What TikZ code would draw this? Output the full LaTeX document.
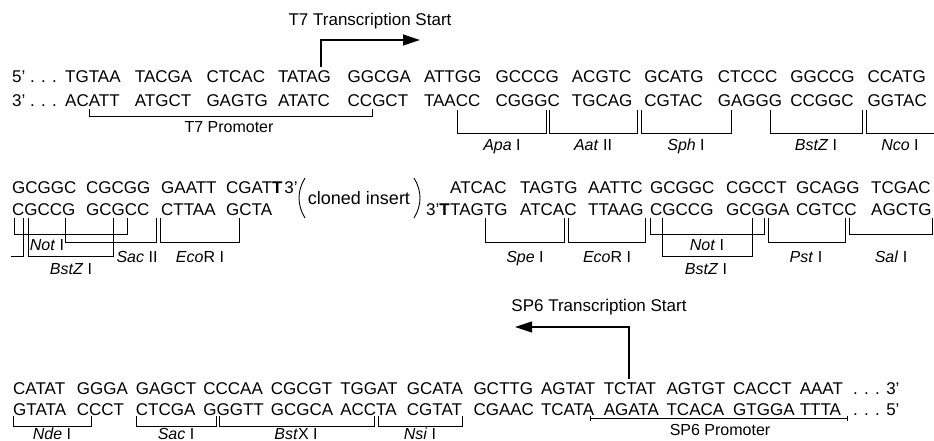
\documentclass[tikz,border=0pt]{standalone}
\usepackage{fontspec}
\setmainfont{Liberation Sans}
\usetikzlibrary{arrows.meta,positioning}

% text rows (y runs downward)
\newcommand*{\topA}{76.5}
\newcommand*{\botA}{100.5}
\newcommand*{\topB}{187.5}
\newcommand*{\botB}{209}
\newcommand*{\topC}{388}
\newcommand*{\botC}{409}

\begin{document}
\begin{tikzpicture}
[
	x=1pt, y=-1pt,
	seq/.style={anchor=west,inner sep=0pt,font=\fontsize{17}{17}\selectfont,text height=12.2pt,text depth=0pt},
	enz/.style={inner sep=0pt,font=\fontsize{16}{16}\selectfont,text height=11.5pt,text depth=0pt},
	title/.style={inner sep=0pt,font=\fontsize{17}{17}\selectfont,text height=12.2pt,text depth=0pt},
	site/.style={line width=0.9pt},
	start/.style={line width=1.2pt,-{Triangle[length=17pt,width=11pt]}},
	paren/.style={line width=0.9pt}
]
	\useasboundingbox (0,0) rectangle (934,441);

	% row 1
	\node[seq] (pa5) at (12,\topA) {5’ . . .};
	\node[seq] (pa3) at (12,\botA) {3’ . . .};
	\foreach \x/\seqT/\seqB [count=\i] in {65/TGTAA/ACATT,134.7/TACGA/ATGCT,206.3/CTCAC/GAGTG,
		277.8/TATAG/ATATC,347.5/GGCGA/CCGCT,423.8/ATTGG/TAACC,495.4/GCCCG/CGGGC,
		571.7/ACGTC/TGCAG,644.2/GCATG/CGTAC,717.7/CTCCC/GAGGG,790.2/GGCCG/CCGGC,867.4/CCATG/GGTAC} {
		\node[seq] (ta\i) at (\x,\topA) {\seqT};
		\node[seq] (ba\i) at (\x,\botA) {\seqB};
	}

	% T7 start
	\node[title] (t7) at (370,19) {T7 Transcription Start};
	\coordinate (t7foot) at (321,67);
	\coordinate (t7tip) at (420,40);
	\draw[start] (t7foot) |- (t7tip);

	\draw[site] (89,109) |- (372,116) -- (372,109);
	\node[enz] (t7prom) at (229,127) {T7 Promoter};

	\draw[site] (457,110) |- (546,133) -- (546,110);
	\draw[site] (549,110) |- (637,133) -- (637,110);
	\draw[site] (641,110) |- (731,133) -- (731,110);
	\draw[site] (770,110) |- (862,133) -- (862,110);
	\draw[site] (866,110) |- (934,133);
	\node[enz] (apa) at (502,145) {\textit{Apa} I};
	\node[enz] (aat) at (593,145) {\textit{Aat} II};
	\node[enz] (sph) at (686,145) {\textit{Sph} I};
	\node[enz] (bstza) at (816,145) {\textit{BstZ} I};
	\node[enz] (nco) at (900,145) {\textit{Nco} I};

	% row 2
	\foreach \x/\seqT/\seqB [count=\i] in {12/GCGGC/CGCCG,86/CGCGG/GCGCC,161/GAATT/CTTAA,226/CGAT\textbf{T}/GCTA} {
		\node[seq] (tb\i) at (\x,\topB) {\seqT};
		\node[seq] (bb\i) at (\x,\botB) {\seqB};
	}
	\node[seq,right=1.5pt of tb4] (tb3p) {3’};

	\node[seq,anchor=center,font=\fontsize{18}{18}\selectfont] (insert) at (359,198) {cloned insert};
	\draw[paren] (305,178) .. controls (297,191) and (297,205) .. (305,218);
	\draw[paren] (414,178) .. controls (422,191) and (422,205) .. (414,218);

	\foreach \x/\seqT/\seqB [count=\i] in {450/ATCAC/TAGTG,520/TAGTG/ATCAC,588/AATTC/TTAAG,
		650/GCGGC/CGCCG,726/CGCCT/GCGGA,796/GCAGG/CGTCC,871/TCGAC/AGCTG} {
		\node[seq] (tc\i) at (\x,\topB) {\seqT};
		\node[seq] (bc\i) at (\x,\botB) {\seqB};
	}
	\node[seq,left=0pt of bc1] (bc3p) {3’\textbf{T}};

	\draw[site] (11,256) -| (23,218);
	\draw[site] (14,218) |- (127,234) -- (127,218);
	\draw[site] (28,218) |- (113,256) -- (113,218);
	\draw[site] (65,218) |- (156,242) -- (156,218);
	\draw[site] (160,218) |- (239,242) -- (239,218);
	\node[enz] (nota) at (47,245) {\textit{Not} I};
	\node[enz] (bstzb) at (71,269) {\textit{BstZ} I};
	\node[enz] (sac2) at (137,257) {\textit{Sac} II};
	\node[enz] (ecoa) at (200,257) {\textit{Eco}R I};

	\draw[site] (485,218) |- (564,242) -- (564,218);
	\draw[site] (568,218) |- (645,242) -- (645,218);
	\draw[site] (650,218) |- (764,234) -- (764,218);
	\draw[site] (662,218) |- (752,256) -- (752,218);
	\draw[site] (768,218) |- (845,242) -- (845,218);
	\draw[site] (849,218) |- (932,234) -- (932,218);
	\node[enz] (spe) at (525,257) {\textit{Spe} I};
	\node[enz] (ecob) at (607,257) {\textit{Eco}R I};
	\node[enz] (notb) at (707,245) {\textit{Not} I};
	\node[enz] (bstzc) at (706,269) {\textit{BstZ} I};
	\node[enz] (pst) at (806,257) {\textit{Pst} I};
	\node[enz] (sal) at (891,257) {\textit{Sal} I};

	% row 3
	\foreach \x/\seqT/\seqB [count=\i] in {13/CATAT/GTATA,76.7/GGGA/CCCT,135.7/GAGCT/CTCGA,
		203.2/CCCAA/GGGTT,270.7/CGCGT/GCGCA,340.1/TGGAT/ACCTA,406.7/GCATA/CGTAT,
		473.3/GCTTG/CGAAC,540.8/AGTAT/TCATA,603.6/TCTAT/AGATA,666.4/AGTGT/TCACA,
		733/CACCT/GTGGA,799.6/AAAT/TTTA} {
		\node[seq] (td\i) at (\x,\topC) {\seqT};
		\node[seq] (bd\i) at (\x,\botC) {\seqB};
	}
	\node[seq] (td3p) at (853,\topC) {. . . 3’};
	\node[seq] (bd5p) at (853,\botC) {. . . 5’};

	% SP6 start
	\node[title] (sp6) at (599,305) {SP6 Transcription Start};
	\coordinate (sp6foot) at (629,379);
	\coordinate (sp6tip) at (515,327);
	\draw[start] (sp6foot) |- (sp6tip);

	\draw[site,{Bar[width=5pt]}-{Bar[width=5pt]}] (590,418) -- (848,418);
	\node[enz] (sp6prom) at (720,430) {SP6 Promoter};

	\draw[site] (13,416) |- (91,426) -- (91,416);
	\draw[site] (136,416) |- (216,426) -- (216,416);
	\draw[site] (219,416) |- (374,426) -- (374,416);
	\draw[site] (378,416) |- (462,426) -- (462,416);
	\node[enz] (nde) at (52,433.5) {\textit{Nde} I};
	\node[enz] (sac1) at (176,433.5) {\textit{Sac} I};
	\node[enz] (bstx) at (296,433.5) {\textit{Bst}X I};
	\node[enz] (nsi) at (420,433.5) {\textit{Nsi} I};

\end{tikzpicture}
\end{document}
